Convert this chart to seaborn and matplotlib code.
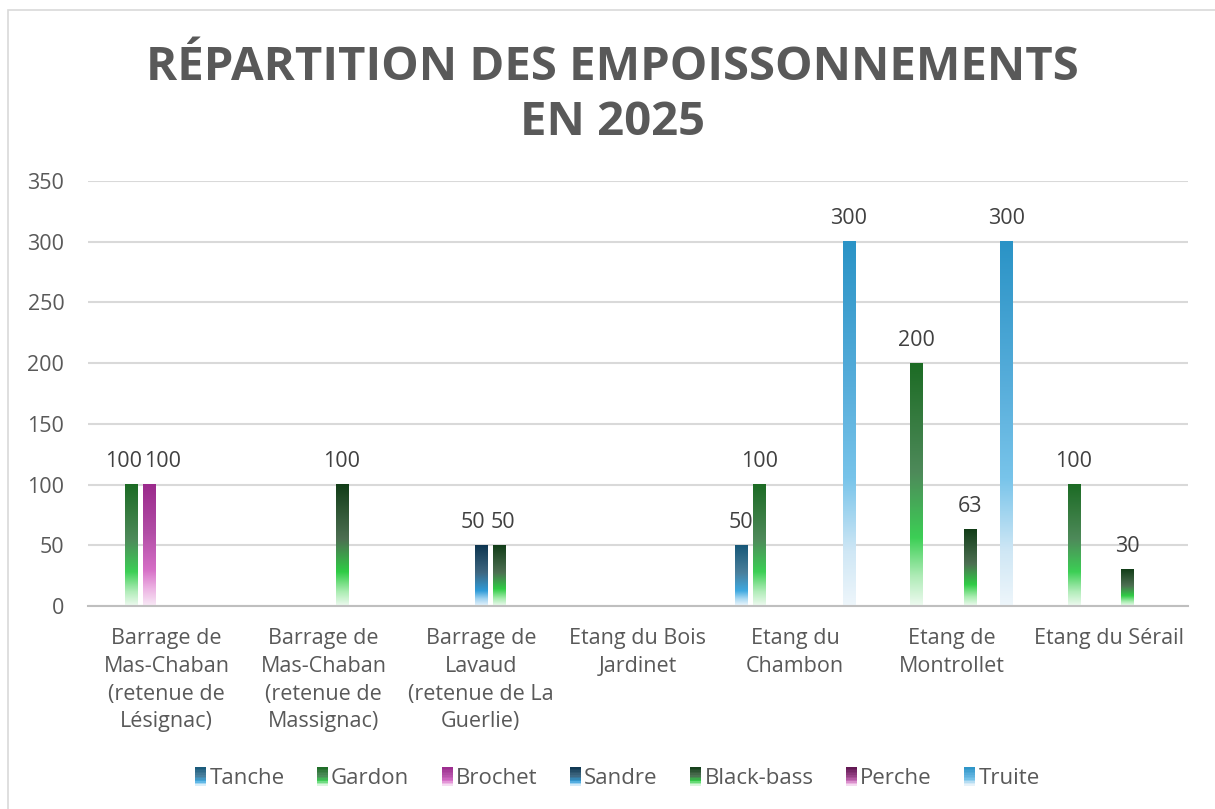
import numpy as np
import pandas as pd
import seaborn as sns
import matplotlib
matplotlib.use("Agg")
import matplotlib.pyplot as plt
from matplotlib.colors import LinearSegmentedColormap
from matplotlib.patches import Rectangle
from matplotlib.legend_handler import HandlerBase

# données
categories = [
    "Barrage de\nMas-Chaban\n(retenue de\nLésignac)",
    "Barrage de\nMas-Chaban\n(retenue de\nMassignac)",
    "Barrage de\nLavaud\n(retenue de La\nGuerlie)",
    "Etang du Bois\nJardinet",
    "Etang du\nChambon",
    "Etang de\nMontrollet",
    "Etang du Sérail",
]
species = ["Tanche", "Gardon", "Brochet", "Sandre", "Black-bass", "Perche", "Truite"]

tanche = [0, 0, 0, 0, 50, 0, 0]
gardon = [100, 0, 0, 0, 100, 200, 100]
brochet = [100, 0, 0, 0, 0, 0, 0]
sandre = [0, 0, 50, 0, 0, 0, 0]
black_bass = [0, 100, 50, 0, 0, 63, 30]
perche = [0, 0, 0, 0, 0, 0, 0]
truite = [0, 0, 0, 0, 300, 300, 0]

values = [tanche, gardon, brochet, sandre, black_bass, perche, truite]

# dégradés (bas -> haut)
stops = {
    "Tanche": [(0, "#f0f8fd"), (0.12, "#a8d8f2"), (0.25, "#3fa9e0"), (0.55, "#4a7f9c"), (1, "#175878")],
    "Gardon": [(0, "#eefaf0"), (0.12, "#b0ecb8"), (0.28, "#3ccf55"), (0.55, "#4e8a5a"), (1, "#1c6b24")],
    "Brochet": [(0, "#f8eaf6"), (0.15, "#ecb0e2"), (0.3, "#d56ec6"), (0.6, "#b24ea6"), (1, "#9b2a8c")],
    "Sandre": [(0, "#e8f4fc"), (0.12, "#9fd2f0"), (0.25, "#2f9bd8"), (0.55, "#3e6680"), (1, "#0d3550")],
    "Black-bass": [(0, "#eefaf0"), (0.12, "#a8ecb0"), (0.28, "#2fcc45"), (0.55, "#4d6f52"), (1, "#123d18")],
    "Perche": [(0, "#f8eaf6"), (0.15, "#e8a8dc"), (0.3, "#c066b0"), (0.6, "#8c3a7c"), (1, "#5e1550")],
    "Truite": [(0, "#eef6fb"), (0.15, "#cfe7f5"), (0.35, "#78c4ea"), (0.6, "#58aedb"), (1, "#2a93c6")],
}
cmaps = {sp: LinearSegmentedColormap.from_list(sp, stops[sp]) for sp in species}

# décalage horizontal (px) des étiquettes qui se chevauchent
label_shift = {(0, "Gardon"): -7, (0, "Brochet"): 14, (2, "Sandre"): -8, (2, "Black-bass"): 4}

rows = []
for sp, vals in zip(species, values):
    for cat, v in zip(categories, vals):
        rows.append({"lieu": cat, "espece": sp, "nombre": v})
df = pd.DataFrame(rows)

sns.set_theme(style="white")
plt.rcParams["font.family"] = ["Open Sans", "DejaVu Sans"]
grey = "#595959"

fig = plt.figure(figsize=(12.15, 8.09), dpi=100)
ax = fig.add_axes([0.0724, 0.2509, 0.9054, 0.5254])

palette = {sp: stops[sp][-1][1] for sp in species}
sns.barplot(data=df, x="lieu", y="nombre", hue="espece", order=categories,
            hue_order=species, palette=palette, width=0.8, gap=0.33,
            legend=False, ax=ax, zorder=2)

grad = np.linspace(0, 1, 256).reshape(-1, 1)
for cont, sp in zip(ax.containers, species):
    for i, bar in enumerate(cont):
        h = bar.get_height()
        bar.set_visible(False)
        if not h:
            continue
        x, w = bar.get_x(), bar.get_width()
        ax.imshow(grad, cmap=cmaps[sp], origin="lower", extent=(x, x + w, 0, h),
                  aspect="auto", zorder=2, interpolation="bilinear")
        dx = label_shift.get((i, sp), 0) * 72 / 100
        ax.annotate(f"{h:g}", (x + w / 2, h), xytext=(dx, 9), textcoords="offset points",
                    ha="center", va="bottom", fontsize=15.5, color="#404040")

ax.set_xlim(-0.5, len(categories) - 0.5)
ax.set_ylim(0, 350)
ax.set_yticks(range(0, 351, 50))
ax.yaxis.grid(True, color="#d9d9d9", linewidth=1.5, zorder=0)
ax.set_axisbelow(True)
for s in ["top", "right", "left"]:
    ax.spines[s].set_visible(False)
ax.spines["bottom"].set_color("#bfbfbf")
ax.spines["bottom"].set_linewidth(1.5)
ax.tick_params(axis="both", length=0, labelsize=15.5, colors=grey)
ax.tick_params(axis="y", pad=17)
ax.tick_params(axis="x", pad=16)
for t in ax.get_xticklabels():
    t.set_linespacing(1.42)
    t.set_verticalalignment("top")
ax.set_xlabel("")
ax.set_ylabel("")

fig.text(0.504, 0.883, "RÉPARTITION DES EMPOISSONNEMENTS\nEN 2025", ha="center", va="center",
         fontsize=34, fontweight="bold", color=grey, linespacing=1.22)

# légende avec dégradés
class HandlerGrad(HandlerBase):
    def __init__(self, cmap):
        super().__init__()
        self.cmap = cmap

    def create_artists(self, legend, orig_handle, xdescent, ydescent, width, height, fontsize, trans):
        n = 12
        arts = []
        for i in range(n):
            r = Rectangle((-xdescent, -ydescent + height * i / n), width, height / n,
                          facecolor=self.cmap((i + 0.5) / n), edgecolor="none", transform=trans)
            arts.append(r)
        return arts

handles = [Rectangle((0, 0), 1, 1) for _ in species]
hmap = {h: HandlerGrad(cmaps[sp]) for h, sp in zip(handles, species)}
leg = fig.legend(handles, species, handler_map=hmap, loc="center", bbox_to_anchor=(0.508, 0.038),
                 ncol=7, frameon=False, fontsize=16, handlelength=0.5, handleheight=0.9,
                 handletextpad=0.15, columnspacing=1.45)
for t in leg.get_texts():
    t.set_color(grey)

# cadre
fig.patches.append(Rectangle((8 / 1215, -0.01), 1.02, 1 - 10 / 809 + 0.01, transform=fig.transFigure,
                             fill=False, edgecolor="#d9d9d9", linewidth=1.2))

fig.savefig("out.png", dpi=100)
